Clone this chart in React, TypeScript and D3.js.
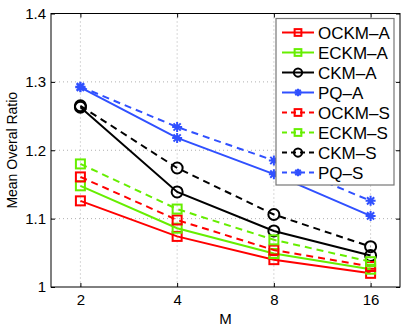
import * as d3 from "d3";
import { useEffect, useRef } from "react";

// x values (M) and y tick labels
const mValues = [2, 4, 8, 16];
const yTicks = [1, 1.1, 1.2, 1.3, 1.4];
const yTickLabels = ["1", "1.1", "1.2", "1.3", "1.4"];

// series
const ockmA = [1.126, 1.074, 1.040, 1.020];
const eckmA = [1.148, 1.086, 1.049, 1.026];
const ckmA = [1.263, 1.139, 1.082, 1.046];
const pqA = [1.292, 1.218, 1.165, 1.104];
const ockmS = [1.161, 1.098, 1.054, 1.030];
const eckmS = [1.180, 1.114, 1.069, 1.037];
const ckmS = [1.265, 1.174, 1.106, 1.059];
const pqS = [1.293, 1.234, 1.185, 1.126];

const seriesNames = ["OCKM–A", "ECKM–A", "CKM–A", "PQ–A", "OCKM–S", "ECKM–S", "CKM–S", "PQ–S"];
const seriesValues = [ockmA, eckmA, ckmA, pqA, ockmS, eckmS, ckmS, pqS];
const seriesColors = ["#ff0000", "#66ee00", "#000000", "#3050ff", "#ff0000", "#66ee00", "#000000", "#3050ff"];
const seriesMarkers = ["square", "square", "circle", "star", "square", "square", "circle", "star"];
const seriesDashed = [false, false, false, false, true, true, true, true];

const W = 407;
const H = 326;
const FONT = "'Liberation Sans', Arial, sans-serif";

const App = () => {
  const ref = useRef(null);

  useEffect(() => {
    const svg = d3.select(ref.current);
    svg.selectAll("*").remove();

    const margin = { top: 13.5, bottom: 39, left: 51, right: 7 };
    const x0 = margin.left, x1 = W - margin.right;
    const y0 = margin.top, y1 = H - margin.bottom;

    const pad = Math.pow(2, 0.304);
    const scaleX = d3.scaleLog().base(2).domain([2 / pad, 16 * pad]).range([x0, x1]);
    const scaleY = d3.scaleLinear().domain([1, 1.4]).range([y1, y0]);

    svg.append("rect").attr("width", W).attr("height", H).attr("fill", "#fff");

    // grid
    const grid = svg.append("g").attr("stroke", "#b0b0b0").attr("stroke-width", 1).attr("stroke-dasharray", "1,3");
    mValues.forEach(m => {
      grid.append("line").attr("x1", scaleX(m)).attr("x2", scaleX(m)).attr("y1", y0).attr("y2", y1);
    });
    yTicks.slice(1, -1).forEach(v => {
      grid.append("line").attr("x1", x0).attr("x2", x1).attr("y1", scaleY(v)).attr("y2", scaleY(v));
    });

    // axes, ticks inside
    const fmt = (d) => yTickLabels[yTicks.indexOf(d)] ?? "";
    const styleAxis = (g) => {
      g.select(".domain").remove();
      g.selectAll("text").attr("font-family", FONT).attr("font-size", 15).attr("fill", "#000");
      g.selectAll("line").attr("stroke", "#000");
    };
    svg.append("g").attr("transform", `translate(${x0},0)`)
      .call(d3.axisLeft(scaleY).tickValues(yTicks).tickFormat(fmt).tickSize(-4).tickPadding(5))
      .call(styleAxis);
    svg.append("g").attr("transform", `translate(${x1},0)`)
      .call(d3.axisRight(scaleY).tickValues(yTicks).tickFormat(() => "").tickSize(-4))
      .call(styleAxis);
    svg.append("g").attr("transform", `translate(0,${y1})`)
      .call(d3.axisBottom(scaleX).tickValues(mValues).tickFormat(d => String(d)).tickSize(-4).tickPadding(7))
      .call(styleAxis);
    svg.append("g").attr("transform", `translate(0,${y0})`)
      .call(d3.axisTop(scaleX).tickValues(mValues).tickFormat(() => "").tickSize(-4))
      .call(styleAxis);

    svg.append("rect").attr("x", x0).attr("y", y0).attr("width", x1 - x0).attr("height", y1 - y0)
      .attr("fill", "none").attr("stroke", "#000").attr("stroke-width", 1);

    // markers
    const drawMarker = (g, type, cx, cy, color, k = 1) => {
      if (type === "square") {
        const s = 4.5 * k;
        g.append("rect").attr("x", cx - s).attr("y", cy - s).attr("width", 2 * s).attr("height", 2 * s)
          .attr("fill", "none").attr("stroke", color).attr("stroke-width", 2);
      } else if (type === "circle") {
        g.append("circle").attr("cx", cx).attr("cy", cy).attr("r", 5.5 * k)
          .attr("fill", "none").attr("stroke", color).attr("stroke-width", 2);
      } else {
        const r = 5 * k;
        const d = r * 0.72;
        g.append("path")
          .attr("d", `M${cx - r},${cy}H${cx + r}M${cx},${cy - r}V${cy + r}M${cx - d},${cy - d}L${cx + d},${cy + d}M${cx - d},${cy + d}L${cx + d},${cy - d}`)
          .attr("stroke", color).attr("stroke-width", 2).attr("fill", "none");
      }
    };

    const line = d3.line().x(d => scaleX(d[0])).y(d => scaleY(d[1]));

    seriesValues.forEach((vals, i) => {
      const g = svg.append("g");
      const pts = mValues.map((m, j) => [m, vals[j]]);
      g.append("path").attr("d", line(pts)).attr("fill", "none")
        .attr("stroke", seriesColors[i]).attr("stroke-width", 2)
        .attr("stroke-dasharray", seriesDashed[i] ? "7,5" : null);
      pts.forEach(p => drawMarker(g, seriesMarkers[i], scaleX(p[0]), scaleY(p[1]), seriesColors[i]));
    });

    // axis labels
    svg.append("text").attr("transform", `translate(17,${(y0 + y1) / 2}) rotate(-90)`)
      .attr("text-anchor", "middle").attr("font-family", FONT).attr("font-size", 14).text("Mean Overal Ratio");
    svg.append("text").attr("x", (x0 + x1) / 2).attr("y", 324)
      .attr("text-anchor", "middle").attr("font-family", FONT).attr("font-size", 15).text("M");

    // legend
    const lg = svg.append("g");
    lg.append("rect").attr("x", 276).attr("y", 18.5).attr("width", 118).attr("height", 166.5)
      .attr("fill", "#fff").attr("stroke", "#777").attr("stroke-width", 1.2);
    seriesNames.forEach((name, i) => {
      const cy = 32.5 + i * 20;
      lg.append("line").attr("x1", 282).attr("x2", 314).attr("y1", cy).attr("y2", cy)
        .attr("stroke", seriesColors[i]).attr("stroke-width", 2)
        .attr("stroke-dasharray", seriesDashed[i] ? "5,4" : null);
      drawMarker(lg, seriesMarkers[i], 298, cy, seriesColors[i], 0.75);
      lg.append("text").attr("x", 318).attr("y", cy).attr("dy", "0.36em")
        .attr("font-family", FONT).attr("font-size", 17).text(name);
    });
  }, []);

  return (
    <svg ref={ref} width={W} height={H} style={{ position: "absolute", left: 0, top: 0 }}></svg>
  );
};

export default App;
